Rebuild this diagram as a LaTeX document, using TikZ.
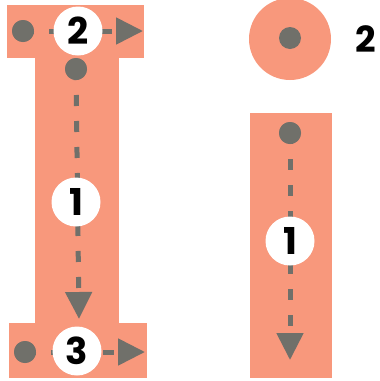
\documentclass[tikz,border=0pt]{standalone}
\usepackage{fontspec}
\setmainfont{Poppins}
\usetikzlibrary{arrows.meta}
\definecolor{salmon}{RGB}{248,152,124}
\definecolor{dgray}{RGB}{112,112,106}
\begin{document}
\begin{tikzpicture}[x=1pt,y=-1pt,
  block/.style={fill=salmon,draw=none},
  dot/.style={circle,fill=dgray,minimum size=22pt,inner sep=0pt},
  numc/.style={circle,fill=white,minimum size=49pt,inner sep=0pt,font=\fontsize{37}{37}\selectfont\bfseries},
  flow/.style={draw=dgray,line width=5pt,dash pattern=on 11pt off 15pt,-{Triangle[length=27pt,width=26pt]}}]
\useasboundingbox (0,0) rectangle (380,381);
% left I
\fill[block] (7,5) rectangle (144,58);
\fill[block] (35,58) rectangle (119,323);
\fill[block] (9,323) rectangle (147,378);
% right i
\fill[block] (290,39) circle (41);
\fill[block] (250,113) rectangle (332,378);
% dots and ends
\node[dot] (d2) at (23,31) {};
\coordinate (e2) at (143,31);
\node[dot] (d1) at (76,69) {};
\coordinate (e1) at (79,319);
\node[dot] (d3) at (25,352) {};
\coordinate (e3) at (145,352);
\node[dot] (di) at (290,133) {};
\coordinate (ei) at (290,360);
\node[dot] (dt) at (290,38) {};
% connectors
\draw[flow] (d2.center) -- (e2);
\draw[flow] (d1.center) -- (e1);
\draw[flow] (d3.center) -- (e3);
\draw[flow] (di.center) -- (ei);
\node[dot] at (d2) {};
\node[dot] at (d1) {};
\node[dot] at (d3) {};
\node[dot] at (di) {};
% numbers
\node[numc] (n2) at (78,31) {2};
\node[numc] (n1) at (76,202) {1};
\node[numc] (n3) at (77,351) {3};
\node[numc] (ni) at (290,241) {1};
\node[font=\fontsize{36}{36}\selectfont\bfseries] (t2) at (366,39) {2};
\end{tikzpicture}
\end{document}
